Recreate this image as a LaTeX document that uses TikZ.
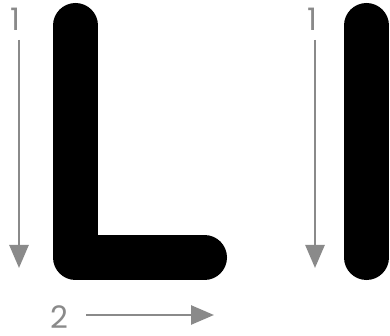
\documentclass[tikz,border=0pt]{standalone}
\usepackage{fontspec}
\setmainfont{Poppins}
\usetikzlibrary{arrows.meta}
\definecolor{guide}{HTML}{8A8A8A}
\begin{document}
\begin{tikzpicture}[x=1pt,y=-1pt,
  stroke/.style={line width=45pt,line cap=round,line join=round,black},
  guidearrow/.style={guide,line width=2.6pt,-{Triangle[width=19pt,length=23pt]}},
  num/.style={guide,font=\fontsize{31}{31}\selectfont, inner sep=0pt, text height=22pt, text depth=0pt, anchor=base}]
\useasboundingbox (0,0) rectangle (390,336);
% letter L
\draw[stroke] (75.5,25.5) -- (75.5,257.5) -- (204.5,257.5);
% letter l
\draw[stroke] (366.5,25.5) -- (366.5,257.5);
% guides
\node[num] (n1) at (15,31) {1};
\node[num] (n2) at (312,31) {1};
\node[num] (n3) at (59,328) {2};
\coordinate (a1s) at (19,40); \coordinate (a1e) at (19,268);
\coordinate (a2s) at (315,40); \coordinate (a2e) at (315,268);
\coordinate (a3s) at (86,315); \coordinate (a3e) at (214,315);
\draw[guidearrow] (a1s) -- (a1e);
\draw[guidearrow] (a2s) -- (a2e);
\draw[guidearrow] (a3s) -- (a3e);
\end{tikzpicture}
\end{document}
